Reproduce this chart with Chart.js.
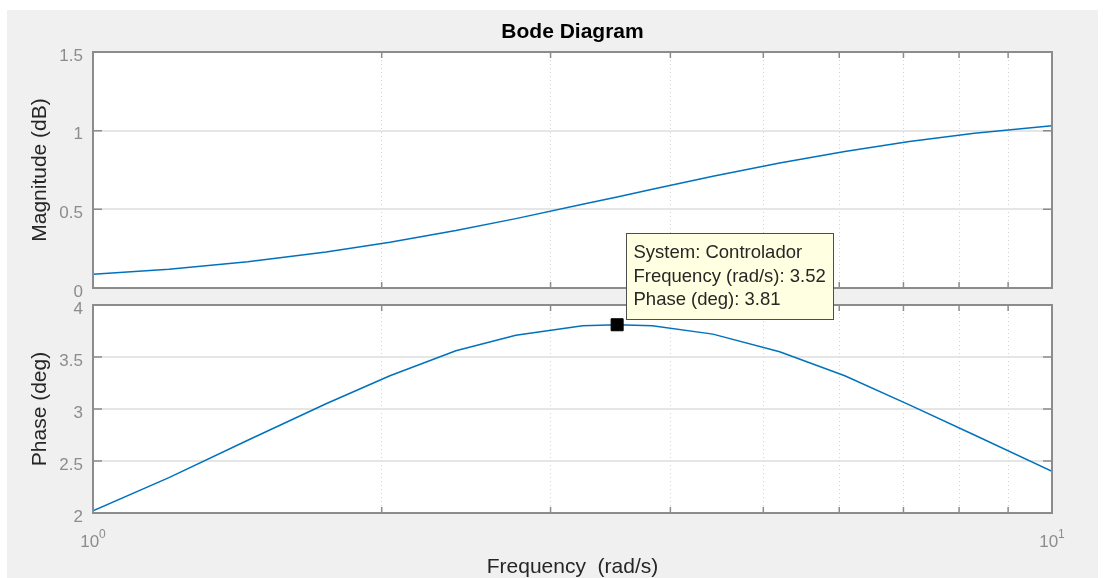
<!DOCTYPE html>
<html>
<head>
<meta charset="utf-8">
<script src="https://cdn.jsdelivr.net/npm/chart.js@4.4.0/dist/chart.umd.min.js"></script>
<style>
  html, body { margin: 0; padding: 0; background: #fff; }
  #wrap { position: relative; width: 1107px; height: 578px; overflow: hidden; }
  #bg { position: absolute; left: 7px; top: 10px; width: 1091px; height: 568px; background: #f0f0f0; }
  canvas { position: absolute; left: 0; top: 0; }
</style>
</head>
<body>
<div id="wrap">
  <div id="bg"></div>
  <canvas id="magChart" width="1107" height="578"></canvas>
  <canvas id="phaseChart" width="1107" height="578"></canvas>
</div>
<script>
// frequency samples (rad/s) and the two responses
var freq = [1, 1.2, 1.45, 1.75, 2.04, 2.39, 2.76, 3.24, 3.52, 3.83, 4.43, 5.2, 6.08, 7.1, 8.3, 10];
var magDb = [0.088, 0.119, 0.167, 0.229, 0.291, 0.365, 0.441, 0.532, 0.579, 0.628, 0.710, 0.795, 0.868, 0.931, 0.983, 1.032];
var phaseDeg = [2.02, 2.34, 2.70, 3.05, 3.32, 3.56, 3.71, 3.80, 3.81, 3.80, 3.72, 3.55, 3.32, 3.04, 2.75, 2.40];

var magTicks = [0, 0.5, 1, 1.5];
var phaseTicks = [2, 2.5, 3, 3.5, 4];
var freqTicks = [1, 2, 3, 4, 5, 6, 7, 8, 9, 10];
var freqTickLabels = { 1: '0', 10: '1' }; // exponents of 10

// data tip
var tipSystem = 'Controlador';
var tipFreq = 3.52;
var tipPhase = 3.81;

var FONT = "'Liberation Sans', Arial, Helvetica, sans-serif";
var AXIS_COLOR = '#8c8c8c';
var LABEL_COLOR = '#262626';
var LINE_COLOR = '#0072BD';

Chart.defaults.font.family = FONT;

function points(xs, ys) {
  return xs.map(function (x, i) { return { x: x, y: ys[i] }; });
}

function fixedTicks(values) {
  return function (scale) {
    scale.ticks = values.map(function (v) { return { value: v }; });
  };
}

// white plot area, inward tick marks and the box
var axesBox = {
  id: 'axesBox',
  beforeDraw: function (chart) {
    var a = chart.chartArea, ctx = chart.ctx;
    ctx.save();
    ctx.fillStyle = '#fff';
    ctx.fillRect(a.left, a.top, a.right - a.left, a.bottom - a.top);
    ctx.restore();
  },
  afterDatasetsDraw: function (chart) {
    var a = chart.chartArea, ctx = chart.ctx;
    var xs = chart.scales.x, ys = chart.scales.y;
    ctx.save();
    ctx.strokeStyle = AXIS_COLOR;
    ctx.lineWidth = 1.5;
    ctx.beginPath();
    ys.ticks.forEach(function (t) {
      var py = ys.getPixelForValue(t.value);
      ctx.moveTo(a.left, py); ctx.lineTo(a.left + 9, py);
      ctx.moveTo(a.right, py); ctx.lineTo(a.right - 9, py);
    });
    xs.ticks.forEach(function (t) {
      var px = xs.getPixelForValue(t.value);
      ctx.moveTo(px, a.top); ctx.lineTo(px, a.top + 6);
      ctx.moveTo(px, a.bottom); ctx.lineTo(px, a.bottom - 6);
    });
    ctx.stroke();
    ctx.lineWidth = 2;
    ctx.strokeRect(a.left, a.top, a.right - a.left, a.bottom - a.top);
    ctx.restore();
  }
};

// 10^n labels under the phase plot
var decadeLabels = {
  id: 'decadeLabels',
  afterDraw: function (chart) {
    var ctx = chart.ctx, xs = chart.scales.x;
    var base = chart.chartArea.bottom + 34;
    ctx.save();
    ctx.fillStyle = AXIS_COLOR;
    ctx.textBaseline = 'alphabetic';
    Object.keys(freqTickLabels).forEach(function (k) {
      var px = xs.getPixelForValue(Number(k));
      var sup = freqTickLabels[k];
      ctx.font = '17px ' + FONT;
      var w1 = ctx.measureText('10').width;
      ctx.font = '12px ' + FONT;
      var w2 = ctx.measureText(sup).width;
      var left = px - (w1 + w2) / 2;
      ctx.font = '17px ' + FONT;
      ctx.fillText('10', left, base);
      ctx.font = '12px ' + FONT;
      ctx.fillText(sup, left + w1, base - 9);
    });
    ctx.restore();
  }
};

var dataTip = {
  id: 'dataTip',
  afterDraw: function (chart) {
    var ctx = chart.ctx;
    var px = chart.scales.x.getPixelForValue(tipFreq);
    var py = chart.scales.y.getPixelForValue(tipPhase);
    var lines = [
      'System: ' + tipSystem,
      'Frequency (rad/s): ' + tipFreq.toFixed(2),
      'Phase (deg): ' + tipPhase.toFixed(2)
    ];
    ctx.save();
    ctx.font = '18.5px ' + FONT;
    var w = 0;
    lines.forEach(function (l) { w = Math.max(w, ctx.measureText(l).width); });
    w = Math.round(w + 15);
    var h = 86;
    var left = Math.round(px + 9) + 0.5;
    var top = Math.round(py - 6 - h) + 0.5;
    ctx.fillStyle = '#ffffe1';
    ctx.fillRect(left, top, w, h);
    ctx.strokeStyle = '#4d4d4d';
    ctx.lineWidth = 1;
    ctx.strokeRect(left, top, w, h);
    ctx.fillStyle = LABEL_COLOR;
    ctx.textBaseline = 'middle';
    lines.forEach(function (l, i) {
      ctx.fillText(l, left + 7, top + 19.5 + i * 23.5);
    });
    ctx.restore();
  }
};

function yAxis(min, max, ticks, title) {
  return {
    type: 'linear',
    min: min,
    max: max,
    afterBuildTicks: fixedTicks(ticks),
    afterFit: function (scale) { scale.width = 93; },
    ticks: {
      color: AXIS_COLOR,
      font: { size: 17 },
      padding: 10,
      labelOffset: 4,
      callback: function (v) { return String(v); }
    },
    grid: { color: '#e6e6e6', lineWidth: 2, drawTicks: false },
    border: { display: false },
    title: {
      display: true,
      text: title,
      color: LABEL_COLOR,
      font: { size: 21 },
      padding: { top: 28, bottom: 0 }
    }
  };
}

function xAxis(height, showTitle) {
  return {
    type: 'logarithmic',
    min: 1,
    max: 10,
    afterBuildTicks: fixedTicks(freqTicks),
    afterFit: function (scale) { scale.height = height; },
    ticks: { display: false },
    grid: { color: 'rgba(0,0,0,0.18)', lineWidth: 1, drawTicks: false },
    border: { display: false, dash: [1, 3] },
    title: {
      display: showTitle,
      text: 'Frequency  (rad/s)',
      color: LABEL_COLOR,
      font: { size: 21, lineHeight: 1 },
      padding: 0
    }
  };
}

new Chart(document.getElementById('magChart'), {
  type: 'line',
  data: {
    datasets: [{
      data: points(freq, magDb),
      borderColor: LINE_COLOR,
      borderWidth: 1.5,
      pointRadius: 0,
      tension: 0
    }]
  },
  options: {
    responsive: false,
    animation: false,
    devicePixelRatio: 1,
    layout: { padding: { left: 0, right: 55, top: 20, bottom: 290 } },
    plugins: {
      legend: { display: false },
      tooltip: { enabled: false },
      title: {
        display: true,
        text: 'Bode Diagram',
        color: '#000',
        fullSize: false,
        font: { size: 21, weight: 'bold', lineHeight: 1.2 },
        padding: { top: 0, bottom: 6.8 }
      }
    },
    scales: {
      x: xAxis(0, false),
      y: yAxis(0, 1.5, magTicks, 'Magnitude (dB)')
    }
  },
  plugins: [axesBox]
});

new Chart(document.getElementById('phaseChart'), {
  type: 'line',
  data: {
    datasets: [{
      data: [{ x: tipFreq, y: tipPhase }],
      showLine: false,
      pointStyle: 'rect',
      pointRadius: 8.5,
      backgroundColor: '#000',
      borderColor: '#000',
      borderWidth: 1
    }, {
      data: points(freq, phaseDeg),
      borderColor: LINE_COLOR,
      borderWidth: 1.5,
      pointRadius: 0,
      tension: 0
    }]
  },
  options: {
    responsive: false,
    animation: false,
    devicePixelRatio: 1,
    layout: { padding: { left: 0, right: 55, top: 305, bottom: 0 } },
    plugins: {
      legend: { display: false },
      tooltip: { enabled: false }
    },
    scales: {
      x: xAxis(65, true),
      y: yAxis(2, 4, phaseTicks, 'Phase (deg)')
    }
  },
  plugins: [axesBox, decadeLabels, dataTip]
});
</script>
</body>
</html>
